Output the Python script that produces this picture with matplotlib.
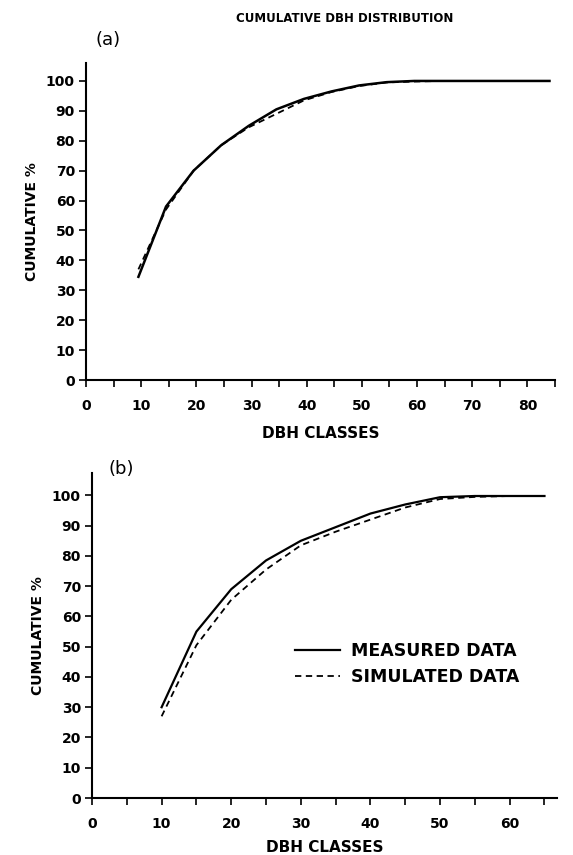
import matplotlib
matplotlib.use("Agg")
import matplotlib.pyplot as plt
from matplotlib.ticker import MultipleLocator

# ---- data ----
dbh_a = [9.5, 14.5, 19.5, 24.5, 29.5, 34.5, 39.5, 44.5, 49.5, 54.5, 59.5, 64.5, 69.5, 74.5, 79.5, 84]
measured_a = [34.5, 58, 70, 78.5, 85, 90.5, 94, 96.5, 98.5, 99.6, 100, 100, 100, 100, 100, 100]
simulated_a = [37, 57, 70, 78.5, 84.5, 89, 93.5, 96.3, 98.3, 99.5, 99.8, 100, 100, 100, 100, 100]

dbh_b = [10, 15, 20, 25, 30, 35, 40, 45, 50, 55, 60, 65]
measured_b = [30, 55, 69, 78.5, 85, 89.5, 94, 97, 99.4, 99.8, 99.8, 99.8]
simulated_b = [27, 50.5, 65.5, 75.5, 83.5, 88, 92, 96, 98.8, 99.5, 99.8, 99.8]

yticks = [0, 10, 20, 30, 40, 50, 60, 70, 80, 90, 100]
xticks_a = [0, 10, 20, 30, 40, 50, 60, 70, 80]
xticks_b = [0, 10, 20, 30, 40, 50, 60]

title = "CUMULATIVE DBH DISTRIBUTION"
xlabel = "DBH CLASSES"
ylabel = "CUMULATIVE %"
labels = ["MEASURED DATA", "SIMULATED DATA"]

plt.rcParams['font.family'] = ['DejaVu Sans']
W, H = 573, 855
fig = plt.figure(figsize=(W / 100, H / 100), dpi=100)


def frac(x0, x1, y_bottom, y_top):
    return [x0 / W, 1 - y_bottom / H, (x1 - x0) / W, (y_bottom - y_top) / H]


def style(ax, xmax, ymax, xt):
    ax.set_xlim(0, xmax)
    ax.set_ylim(0, ymax)
    for s in ['top', 'right']:
        ax.spines[s].set_visible(False)
    for s in ['left', 'bottom']:
        ax.spines[s].set_linewidth(1.5)
    ax.set_yticks(yticks)
    ax.set_xticks(xt)
    ax.xaxis.set_minor_locator(MultipleLocator(5))
    ax.tick_params(axis='both', which='both', direction='out', length=5, width=1.2,
                   labelsize=10, pad=3)
    for lab in ax.get_xticklabels() + ax.get_yticklabels():
        lab.set_fontweight('bold')
    ax.tick_params(axis='x', which='major', pad=9)


# panel (a)
axa = fig.add_axes(frac(86, 555, 380, 63))
axa.plot(dbh_a, measured_a, color='black', lw=1.8, solid_joinstyle='round')
axa.plot(dbh_a, simulated_a, color='black', lw=1.3, ls=(0, (3.5, 2.5)))
style(axa, 85, 106, xticks_a)
axa.set_xlabel(xlabel, fontsize=11, fontweight='bold', labelpad=9)
axa.set_ylabel(ylabel, fontsize=10, fontweight='bold', labelpad=5)

# panel (b)
axb = fig.add_axes(frac(92, 557, 798, 473))
axb.plot(dbh_b, measured_b, color='black', lw=1.6, label=labels[0])
axb.plot(dbh_b, simulated_b, color='black', lw=1.3, ls=(0, (3.5, 2.5)), label=labels[1])
style(axb, 66.8, 107.4, xticks_b)
axb.set_xlabel(xlabel, fontsize=11, fontweight='bold', labelpad=6)
axb.set_ylabel(ylabel, fontsize=10, fontweight='bold', labelpad=5)
leg = axb.legend(loc='upper left', bbox_to_anchor=(0.437, 0.48), frameon=False,
                 handlelength=2.6, handletextpad=0.6, labelspacing=0.45,
                 borderaxespad=0, borderpad=0,
                 prop={'size': 12.5, 'weight': 'bold'})

fig.text(345 / W, 1 - 19 / H, title, ha='center', va='center', fontsize=8.5, fontweight='bold')
fig.text(108 / W, 1 - 40 / H, "(a)", ha='center', va='center', fontsize=13)
fig.text(121 / W, 1 - 469 / H, "(b)", ha='center', va='center', fontsize=13)

fig.savefig("out.png", dpi=100)
